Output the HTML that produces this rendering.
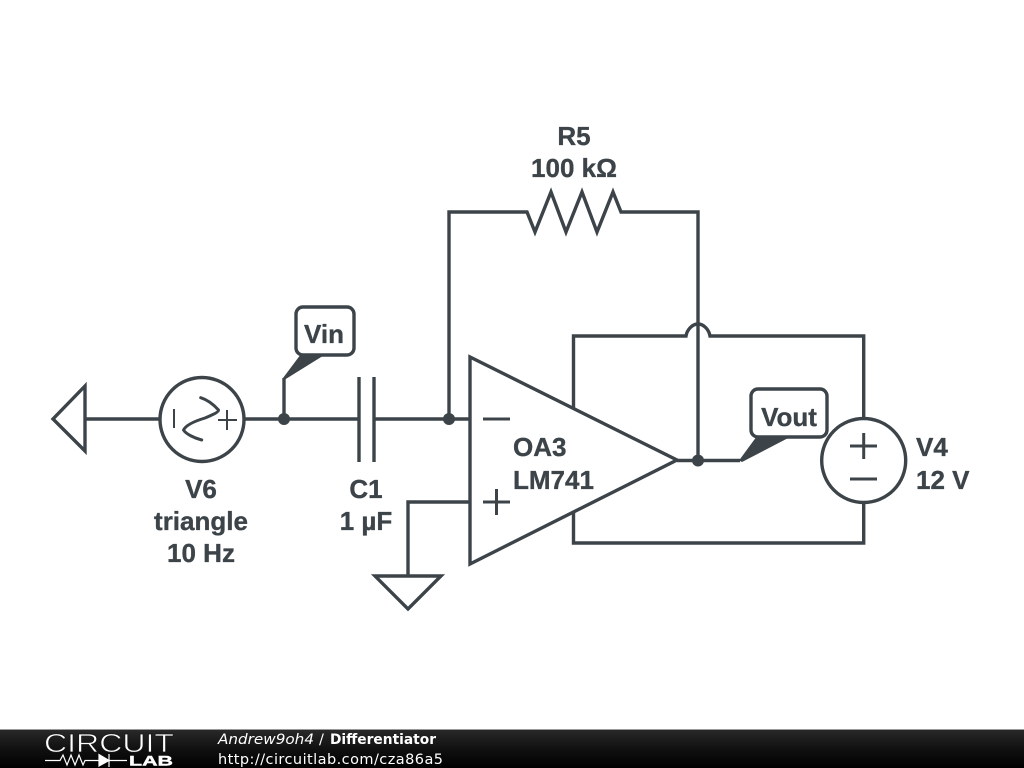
<!DOCTYPE html>
<html><head><meta charset="utf-8"><style>
html,body{margin:0;padding:0;background:#fff}
svg{display:block}
.w{fill:none;stroke:#3c4449;stroke-width:3.4;stroke-linejoin:miter;stroke-linecap:butt}
.t{font-family:"Liberation Sans",sans-serif;font-weight:bold;font-size:26px;fill:#3c4449;stroke:#3c4449;stroke-width:0.35}
.m{text-anchor:middle}
.f{font-family:"DejaVu Sans",sans-serif;font-size:14.5px;fill:#fff}
</style></head><body>
<svg width="1024" height="768" viewBox="0 0 1024 768" xmlns="http://www.w3.org/2000/svg">
<defs><linearGradient id="g" x1="0" y1="0" x2="0" y2="1"><stop offset="0" stop-color="#2a2a2a"/><stop offset="0.5" stop-color="#111"/><stop offset="1" stop-color="#000"/></linearGradient></defs>
<rect width="1024" height="768" fill="#fff"/>
<!-- left source -->
<path class="w" d="M85 386L53 419L85 451ZM85 419H160"/>
<circle class="w" cx="202" cy="419.500" r="42"/>
<path d="M174 409V428M218 420H237M227 410V430" fill="none" stroke="#3c4449" stroke-width="2"/>
<path d="M200.700 397.700C208 400 214 405 218.500 410C219 412 212 415 205 418C195 421 186 425 183.500 430C186 434 194 438 201.700 440" fill="none" stroke="#3c4449" stroke-width="3" stroke-linecap="round" stroke-linejoin="round"/>
<path class="w" d="M244 419H359M284 419V378"/>
<circle cx="284" cy="419" r="6" fill="#3c4449"/>
<path d="M283 378L301 354H326L285 379.500Z" fill="#3c4449"/>
<rect class="w" x="296" y="307" width="58" height="48" rx="7" style="fill:#fff"/>
<text class="t m" x="324" y="343">Vin</text>
<!-- capacitor -->
<path class="w" d="M359 377V462M374 377V462M374 419H470"/>
<circle cx="449" cy="419" r="6" fill="#3c4449"/>
<!-- feedback -->
<path class="w" d="M449 419V212H527L535 232L551 192L566 232L582 192L597 232L613 192L621 212H698V460"/>
<!-- opamp -->
<path class="w" d="M470 357V564L677 460Z"/>
<path class="w" d="M483 419H510M483 502H510M496.500 489V515" style="stroke-width:3"/>
<path class="w" d="M470 502H408V576"/>
<path class="w" d="M375 576H441L408 609Z"/>
<!-- supply -->
<path class="w" d="M573.500 408V336H686C687 330 692 324 698 324C704 324 709 330 710 336H863.700V419"/>
<path class="w" d="M863.700 502V543H573.500V512"/>
<circle class="w" cx="863.700" cy="460.500" r="42"/>
<path class="w" d="M850 446H877M863.700 433V459M850 479H877" style="stroke-width:3"/>
<!-- output -->
<path class="w" d="M677 460.500H740"/>
<circle cx="698" cy="460.500" r="6" fill="#3c4449"/>
<path d="M739 460.500L757 436H792L742 462Z" fill="#3c4449"/>
<rect class="w" x="751" y="389" width="76" height="48" rx="7" style="fill:#fff"/>
<text class="t m" x="789" y="426">Vout</text>
<!-- labels -->
<text class="t m" x="201" y="498">V6</text>
<text class="t m" x="201" y="530">triangle</text>
<text class="t m" x="201" y="562">10 Hz</text>
<text class="t m" x="366" y="498">C1</text>
<text class="t m" x="366" y="530">1 µF</text>
<text class="t m" x="574" y="145">R5</text>
<text class="t m" x="574" y="177">100 kΩ</text>
<text class="t" x="513" y="456">OA3</text>
<text class="t" x="513" y="489">LM741</text>
<text class="t" x="916" y="456">V4</text>
<text class="t" x="916" y="489">12 V</text>
<!-- footer -->
<rect x="0" y="729" width="1024" height="39" fill="url(#g)"/>
<rect x="0" y="729" width="1024" height="1" fill="#999"/>
<text x="44" y="752" font-family="Liberation Sans,sans-serif" font-size="26" fill="#fff" stroke="#181818" stroke-width="0.7" textLength="130" lengthAdjust="spacingAndGlyphs">CIRCUIT</text>
<path d="M45 760.500H60L63 755L67 765L71 755L75 765L79 755L83 765L85 760.500H99" fill="none" stroke="#fff" stroke-width="1.200"/>
<path d="M99 754.500V766L109 760.500ZM109 754V767" fill="#fff" stroke="#fff" stroke-width="1.200"/>
<path d="M109 760.500H127" fill="none" stroke="#fff" stroke-width="1.200"/>
<text x="129" y="765.500" font-family="Liberation Sans,sans-serif" font-weight="bold" font-size="14" fill="#fff" stroke="#fff" stroke-width="0.4" textLength="44" lengthAdjust="spacingAndGlyphs">LAB</text>
<text class="f" x="218" y="744"><tspan font-style="italic" textLength="96" lengthAdjust="spacingAndGlyphs">Andrew9oh4</tspan></text>
<text class="f" x="319" y="744">/</text>
<text class="f" x="330" y="744" font-weight="bold" textLength="106" lengthAdjust="spacingAndGlyphs">Differentiator</text>
<text class="f" x="218" y="764" textLength="225">http://circuitlab.com/cza86a5</text>
</svg>
</body></html>
